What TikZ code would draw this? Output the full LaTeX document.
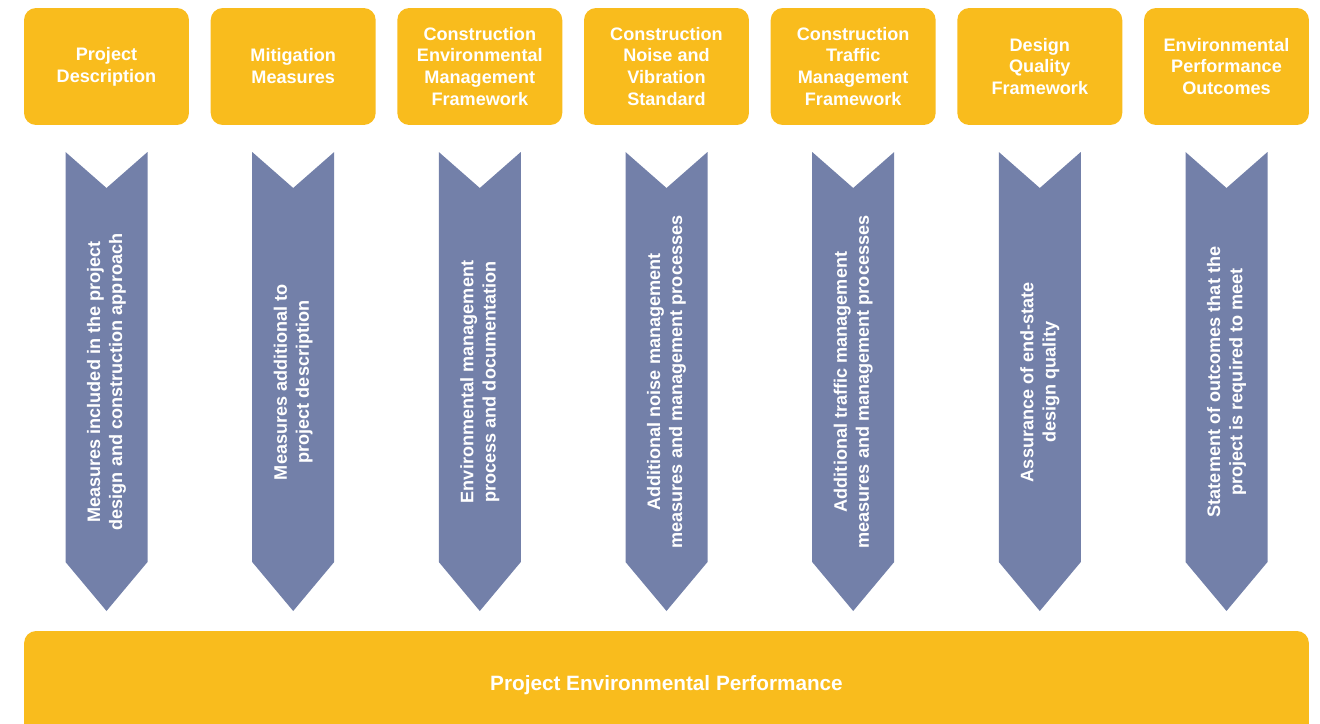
\documentclass[tikz,border=0pt]{standalone}
\usepackage{fontspec}
\setmainfont{Liberation Sans}
\usepackage{xcolor}
\usepackage{tikz}
\usetikzlibrary{positioning,calc}

\definecolor{amber}{HTML}{F9BC1D}
\definecolor{slate}{HTML}{7380A9}

% chevron: centre x, name, text
\newcommand{\chev}[3]{%
  \fill[slate] (#1-41,152) -- (#1,188) -- (#1+41,152) -- (#1+41,562) -- (#1,611) -- (#1-41,562) -- cycle;
  \node[chevtext] (#2) at (#1,382) {#3};
}

\begin{document}
\begin{tikzpicture}[
            x=0.02cm, y=-0.02cm,
            topbox/.style={fill=amber, rounded corners=0.24cm, minimum width=3.3cm, minimum height=2.34cm,
                 align=center, text=white, font=\fontsize{10.3}{12.5}\selectfont\bfseries},
            chevtext/.style={rotate=90, align=center, text=white, inner sep=0pt,
                 font=\fontsize{10.3}{12.6}\selectfont\bfseries},
            basebar/.style={fill=amber, rounded corners=0.24cm, minimum width=25.7cm, minimum height=2.18cm,
                 text=white, font=\fontsize{11.8}{14}\selectfont\bfseries}
            ]
            \useasboundingbox (0,0) rectangle (1320,724);

            % Top boxes with manual coordinates
            \node[topbox] (desc) at (106.5,66.5) {Project\\Description};
            \node[topbox] (mitig) at (293.2,66.5) {Mitigation\\Measures};
            \node[topbox] (cemf) at (479.8,66.5) {Construction\\Environmental\\Management\\Framework};
            \node[topbox] (cnvs) at (666.5,66.5) {Construction\\Noise and\\Vibration\\Standard};
            \node[topbox] (ctmf) at (853.2,66.5) {Construction\\Traffic\\Management\\Framework};
            \node[topbox] (dqf) at (1039.8,66.5) {Design\\Quality\\Framework};
            \node[topbox] (epo) at (1226.5,66.5) {Environmental\\Performance\\Outcomes};

            % Chevrons
            \chev{106.5}{descchev}{Measures included in the project\\design and construction approach}
            \chev{293.2}{mitigchev}{Measures additional to\\project description}
            \chev{479.8}{cemfchev}{Environmental management\\process and documentation}
            \chev{666.5}{cnvschev}{Additional noise management\\measures and management processes}
            \chev{853.2}{ctmfchev}{Additional traffic management\\measures and management processes}
            \chev{1039.8}{dqfchev}{Assurance of end-state\\design quality}
            \chev{1226.5}{epochev}{Statement of outcomes that the\\project is required to meet}

            % Bottom bar
            \node[basebar] (perf) at (666.5,685.5) {Project Environmental Performance};
        \end{tikzpicture}
\end{document}
